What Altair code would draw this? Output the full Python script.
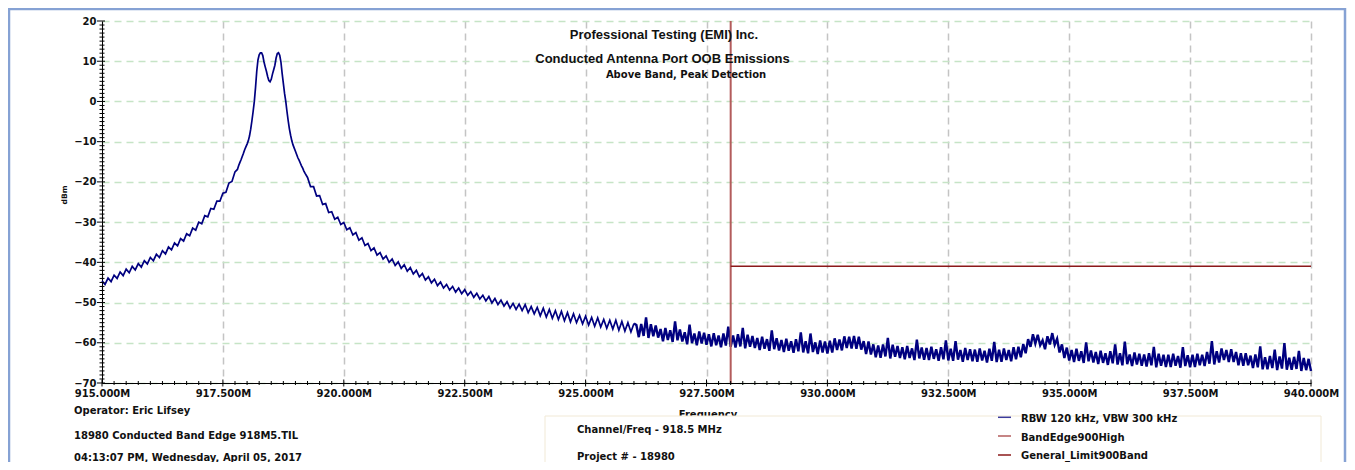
import altair as alt
import pandas as pd
import numpy as np

# ---------------- data ----------------
X_TICKS = [915.0, 917.5, 920.0, 922.5, 925.0, 927.5, 930.0, 932.5, 935.0, 937.5, 940.0]
Y_TICKS = [-70, -60, -50, -40, -30, -20, -10, 0, 10, 20]

# trace segments: (start MHz, end MHz, dBm values)
SEG_A = [-44.6, -45.5, -43.9, -44.8, -43.2, -44.0, -42.4, -43.3, -41.7, -42.6,
         -41.0, -41.9, -40.3, -41.2, -39.6, -40.4, -38.8, -39.6, -38.0, -38.8,
         -37.1, -37.9, -36.2, -36.9, -35.2, -35.9, -34.1, -34.7, -32.9, -33.4,
         -31.5, -32.0, -30.0, -30.4, -28.4, -28.7, -26.6, -26.8, -24.8, -24.8,
         -22.8, -22.6, -20.3, -19.9, -17.5]
SEG_B = [-16.9, -16.0, -15.2, -14.5, -13.7, -12.9, -12.0, -11.3, -10.6, -9.8,
         -8.6, -6.9, -4.8, -2.5, 0.0, 3.5, 7.5, 10.3, 11.6, 12.1,
         12.1, 11.4, 9.8, 8.6, 7.5, 6.2, 5.2, 4.9, 5.5, 6.8,
         7.9, 9.0, 10.8, 11.9, 12.1, 11.5, 9.8, 7.0, 4.5, 2.0,
         0.0, -2.5, -4.8, -6.8, -8.4, -9.8, -10.8, -11.6, -12.4, -13.2,
         -14.0, -14.6, -15.3, -16.0, -16.6, -17.3, -17.9]
SEG_C = [-18.9, -21.2, -21.2, -23.5, -23.4, -25.6, -25.4, -27.6, -27.4, -29.3,
         -28.8, -30.6, -30.1, -31.9, -31.4, -33.2, -32.6, -34.5, -33.9, -35.8,
         -35.3, -37.1, -36.4, -38.2, -37.6, -39.2, -38.4, -40.0, -39.2, -40.8,
         -39.9, -41.5, -40.6, -42.2, -41.3, -42.9, -42.0, -43.6, -42.8, -44.4,
         -43.6, -45.1, -44.2, -45.8, -44.9, -46.4, -45.5, -46.9, -46.0, -47.4,
         -46.4, -47.8, -46.8, -48.2, -47.3, -48.7, -47.7, -49.1, -48.2, -49.6,
         -48.5, -50.1, -49.0, -50.5, -49.4, -50.9, -49.8, -51.4, -50.2, -51.7,
         -50.4, -52.0, -50.5, -52.5, -51.0, -52.8, -51.2, -53.3, -51.4, -53.6,
         -51.7, -53.9, -52.0, -54.2, -52.2, -54.5, -52.5, -54.8, -52.8, -55.0,
         -53.2, -55.3, -53.4, -55.6, -53.7, -55.9, -53.8, -56.1, -54.2, -56.4,
         -54.4, -56.6, -54.4, -56.9, -54.7, -57.1, -55.0, -57.3, -55.2]
SEG_D = [-55.6, -58.6, -55.3, -58.3, -53.7, -58.8, -55.4, -58.4, -55.7, -58.7,
         -56.6, -59.6, -56.3, -59.3, -56.9, -59.8, -54.7, -59.4, -56.7, -59.7,
         -57.4, -60.4, -55.5, -60.1, -57.7, -60.6, -57.2, -60.2, -57.5, -60.5,
         -57.9, -60.9, -57.6, -60.6, -58.2, -61.1, -57.7, -60.7, -56.0, -61.0,
         -58.2, -61.2, -57.9, -60.9, -56.3, -61.4, -58.0, -61.0, -58.3, -61.3,
         -58.8, -61.8, -58.5, -61.5, -59.1, -62.0, -56.9, -61.6, -58.9, -61.9,
         -59.3, -62.3, -59.0, -62.0, -59.6, -62.5, -59.1, -62.1, -57.4, -62.4,
         -59.6, -62.6, -57.7, -62.3, -59.9, -62.8, -59.4, -62.4, -59.7, -62.7,
         -59.5, -62.4, -58.9, -61.8, -59.2, -61.9, -58.4, -61.3, -58.5, -61.4,
         -58.3, -61.5, -58.5, -61.7, -59.6, -62.8, -59.7, -62.9, -60.4, -63.6,
         -60.7, -63.7, -60.4, -63.4, -58.8, -63.9, -60.5, -63.5, -60.8, -63.8,
         -61.1, -64.1, -60.8, -63.8, -61.4, -64.3, -59.2, -63.9, -61.2, -64.2,
         -61.3, -64.3, -61.0, -64.0, -61.6, -64.5, -61.1, -64.1, -59.4, -64.4,
         -61.5, -64.5, -59.6, -64.2, -61.8, -64.7, -61.3, -64.3, -61.6, -64.6,
         -61.7, -64.7, -61.4, -64.4, -62.0, -64.9, -61.5, -64.5, -59.8, -64.8,
         -61.7, -64.7, -61.4, -64.3, -61.8, -64.6, -61.1, -64.1, -61.0, -63.6,
         -60.3, -62.6, -59.1, -61.0, -57.9, -60.2, -58.0, -60.6, -59.4, -61.6,
         -58.4, -60.4, -57.6, -60.5, -59.0, -62.4, -60.4, -63.8, -61.2, -64.4,
         -61.8, -64.8, -61.5, -64.5, -62.1, -65.0, -59.9, -64.6, -61.9, -64.9,
         -62.3, -65.3, -62.0, -65.0, -62.6, -65.5, -62.1, -65.1, -60.4, -65.4,
         -62.6, -65.6, -59.7, -65.3, -62.9, -65.8, -62.4, -65.4, -62.7, -65.7,
         -62.9, -65.9, -62.6, -65.6, -61.0, -66.1, -62.7, -65.7, -63.0, -66.0,
         -63.0, -66.0, -62.7, -65.7, -63.3, -66.2, -61.1, -65.8, -63.1, -66.1,
         -63.0, -66.0, -62.7, -65.6, -63.0, -65.8, -62.3, -65.2, -59.6, -65.4,
         -62.1, -64.9, -61.4, -64.3, -61.8, -64.8, -61.6, -64.8, -62.3, -65.6,
         -62.6, -65.7, -62.6, -65.6, -63.2, -66.3, -62.9, -66.1, -60.9, -66.6,
         -63.6, -66.6, -63.3, -66.3, -61.7, -66.8, -63.4, -66.4, -60.1, -66.7,
         -63.7, -66.7, -63.5, -66.5, -62.0, -67.0, -63.8, -66.8, -64.0, -67.0]
SEGMENTS = [(915.0, 917.75, SEG_A), (917.8, 919.2, SEG_B),
            (919.25, 926.0, SEG_C), (926.05, 940.0, SEG_D)]

BAND_EDGE = 928.0          # BandEdge900High
LIMIT_START, LIMIT_END, LIMIT_VAL = 928.0, 940.0, -41.0   # General_Limit900Band

TITLE1 = "Professional Testing (EMI) Inc."
TITLE2 = "Conducted Antenna Port OOB Emissions"
TITLE3 = "Above Band, Peak Detection"
INFO_LEFT = ["Operator: Eric Lifsey", "18980 Conducted Band Edge 918M5.TIL",
             "04:13:07 PM, Wednesday, April 05, 2017"]
INFO_MID = ["Channel/Freq - 918.5 MHz", "Project # - 18980"]
LEGEND = ["RBW 120 kHz, VBW 300 kHz", "BandEdge900High", "General_Limit900Band"]
LEGEND_COLORS = ["#3c3c9c", "#b35c5c", "#8b1a1a"]

# ---------------- build tables ----------------
rows = []
for k, (s, e, vals) in enumerate(SEGMENTS):
    fs = np.linspace(s, e, len(vals))
    rows += [{"f": float(f), "v": float(v), "noisy": k == 3} for f, v in zip(fs, vals)]
trace = pd.DataFrame(rows)
smooth = trace[~trace["noisy"]]
noisy = pd.concat([smooth.tail(1), trace[trace["noisy"]]])

y_minor = pd.DataFrame({"v": [v for v in range(-69, 20) if v % 10 != 0]})
y_major = pd.DataFrame({"v": Y_TICKS})
x_minor = pd.DataFrame({"f": [915 + 0.25 * i for i in range(1, 100) if i % 10 != 0]})
x_major = pd.DataFrame({"f": X_TICKS})
one = pd.DataFrame({"a": [0]})

W, H = 1209, 362
FONT = "DejaVu Sans"
xscale = alt.Scale(domain=[915, 940], nice=False, zero=False)
yscale = alt.Scale(domain=[-70, 20], nice=False, zero=False)

X = lambda **k: alt.X("f:Q", scale=xscale, **k)
Y = lambda **k: alt.Y("v:Q", scale=yscale, **k)

main = alt.Chart(smooth).mark_line(color="#000080", strokeWidth=1.7).encode(
    x=X(axis=alt.Axis(values=X_TICKS, labelExpr="format(datum.value, '.3f') + 'M'",
                      ticks=False, labelPadding=5, title=None, grid=True,
                      gridColor="#c4c4c4", gridDash=[7, 5], gridWidth=1.5,
                      domainColor="#000", labelFont=FONT, labelFontWeight="bold",
                      labelFontSize=10, labelColor="#111", labelFlush=False,
                      labelOverlap=False)),
    y=Y(axis=alt.Axis(values=Y_TICKS, ticks=False, labelPadding=6, title=None,
                      grid=True, gridColor="#c6e4c6", gridDash=[7, 5], gridWidth=1.5,
                      domainColor="#000", labelFont=FONT, labelFontWeight="bold",
                      labelFontSize=10, labelColor="#111", labelOverlap=False)),
)
noise = alt.Chart(noisy).mark_line(color="#000080", strokeWidth=2.4).encode(x=X(), y=Y())

edge = alt.Chart(pd.DataFrame({"f": [BAND_EDGE]})).mark_rule(
    color="#b35c5c", strokeWidth=2).encode(x=X())
limit = alt.Chart(pd.DataFrame({"f": [LIMIT_START], "f2": [LIMIT_END], "v": [LIMIT_VAL]})).mark_rule(
    color="#8b1a1a", strokeWidth=1.5).encode(x=X(), x2="f2:Q", y=Y())

ytm = alt.Chart(y_minor).mark_rule(color="#000", strokeWidth=1).encode(
    y=Y(), x=alt.value(-2.5), x2=alt.value(2.5))
ytM = alt.Chart(y_major).mark_rule(color="#000", strokeWidth=1).encode(
    y=Y(), x=alt.value(-5), x2=alt.value(3))
xtm = alt.Chart(x_minor).mark_rule(color="#000", strokeWidth=1).encode(
    x=X(), y=alt.value(H - 2), y2=alt.value(H + 2))
xtM = alt.Chart(x_major).mark_rule(color="#000", strokeWidth=1).encode(
    x=X(), y=alt.value(H - 3.5), y2=alt.value(H + 3.5))


def txt(s, x, y, size=10, font=FONT, align="left", angle=0):
    return alt.Chart(one).mark_text(text=s, font=font, fontSize=size, fontWeight="bold",
                                    align=align, baseline="alphabetic", color="#111",
                                    angle=angle).encode(x=alt.value(x), y=alt.value(y))


def rect(x, x2, y, y2, **kw):
    return alt.Chart(one).mark_rect(**kw).encode(
        x=alt.value(x), x2=alt.value(x2), y=alt.value(y), y2=alt.value(y2))


frame = rect(-93, 1243, -12, 470, fillOpacity=0, stroke="#86a2d4", strokeWidth=2.5)

layers = [main, noise, frame, edge, limit, ytm, ytM, xtm, xtM,
          txt(TITLE1, 562, 17.5, size=13, font="Liberation Sans", align="center"),
          txt(TITLE2, 560.5, 42, size=13, font="Liberation Sans", align="center"),
          txt(TITLE3, 584, 57.3, size=10, align="center"),
          txt("dBm", -35, 174, size=7.5, align="center", angle=270),
          txt("Frequency", 606, 396.5, size=10, align="center"),
          rect(443, 1219, 395, 445, fill="#ffffff", stroke="#f1e9d6", strokeWidth=1),
          ]
for i, s in enumerate(INFO_LEFT):
    layers.append(txt(s, -28, [393.3, 418, 440][i]))
for i, s in enumerate(INFO_MID):
    layers.append(txt(s, 475, [412.3, 439][i]))
for i, s in enumerate(LEGEND):
    yy = [396.3, 415, 434][i]
    layers.append(alt.Chart(one).mark_rule(color=LEGEND_COLORS[i], strokeWidth=1.5).encode(
        x=alt.value(896), x2=alt.value(909), y=alt.value(yy)))
    layers.append(txt(s, 919, [401.3, 419.5, 438.3][i]))

chart = alt.layer(*layers).properties(
    width=W, height=H,
    autosize=alt.AutoSizeParams(type="none"),
    padding={"left": 94, "top": 13, "right": 36, "bottom": 79},
    background="#ffffff",
).configure_view(stroke=None)

chart.save("out.html", embed_options={"renderer": "svg", "actions": False})
